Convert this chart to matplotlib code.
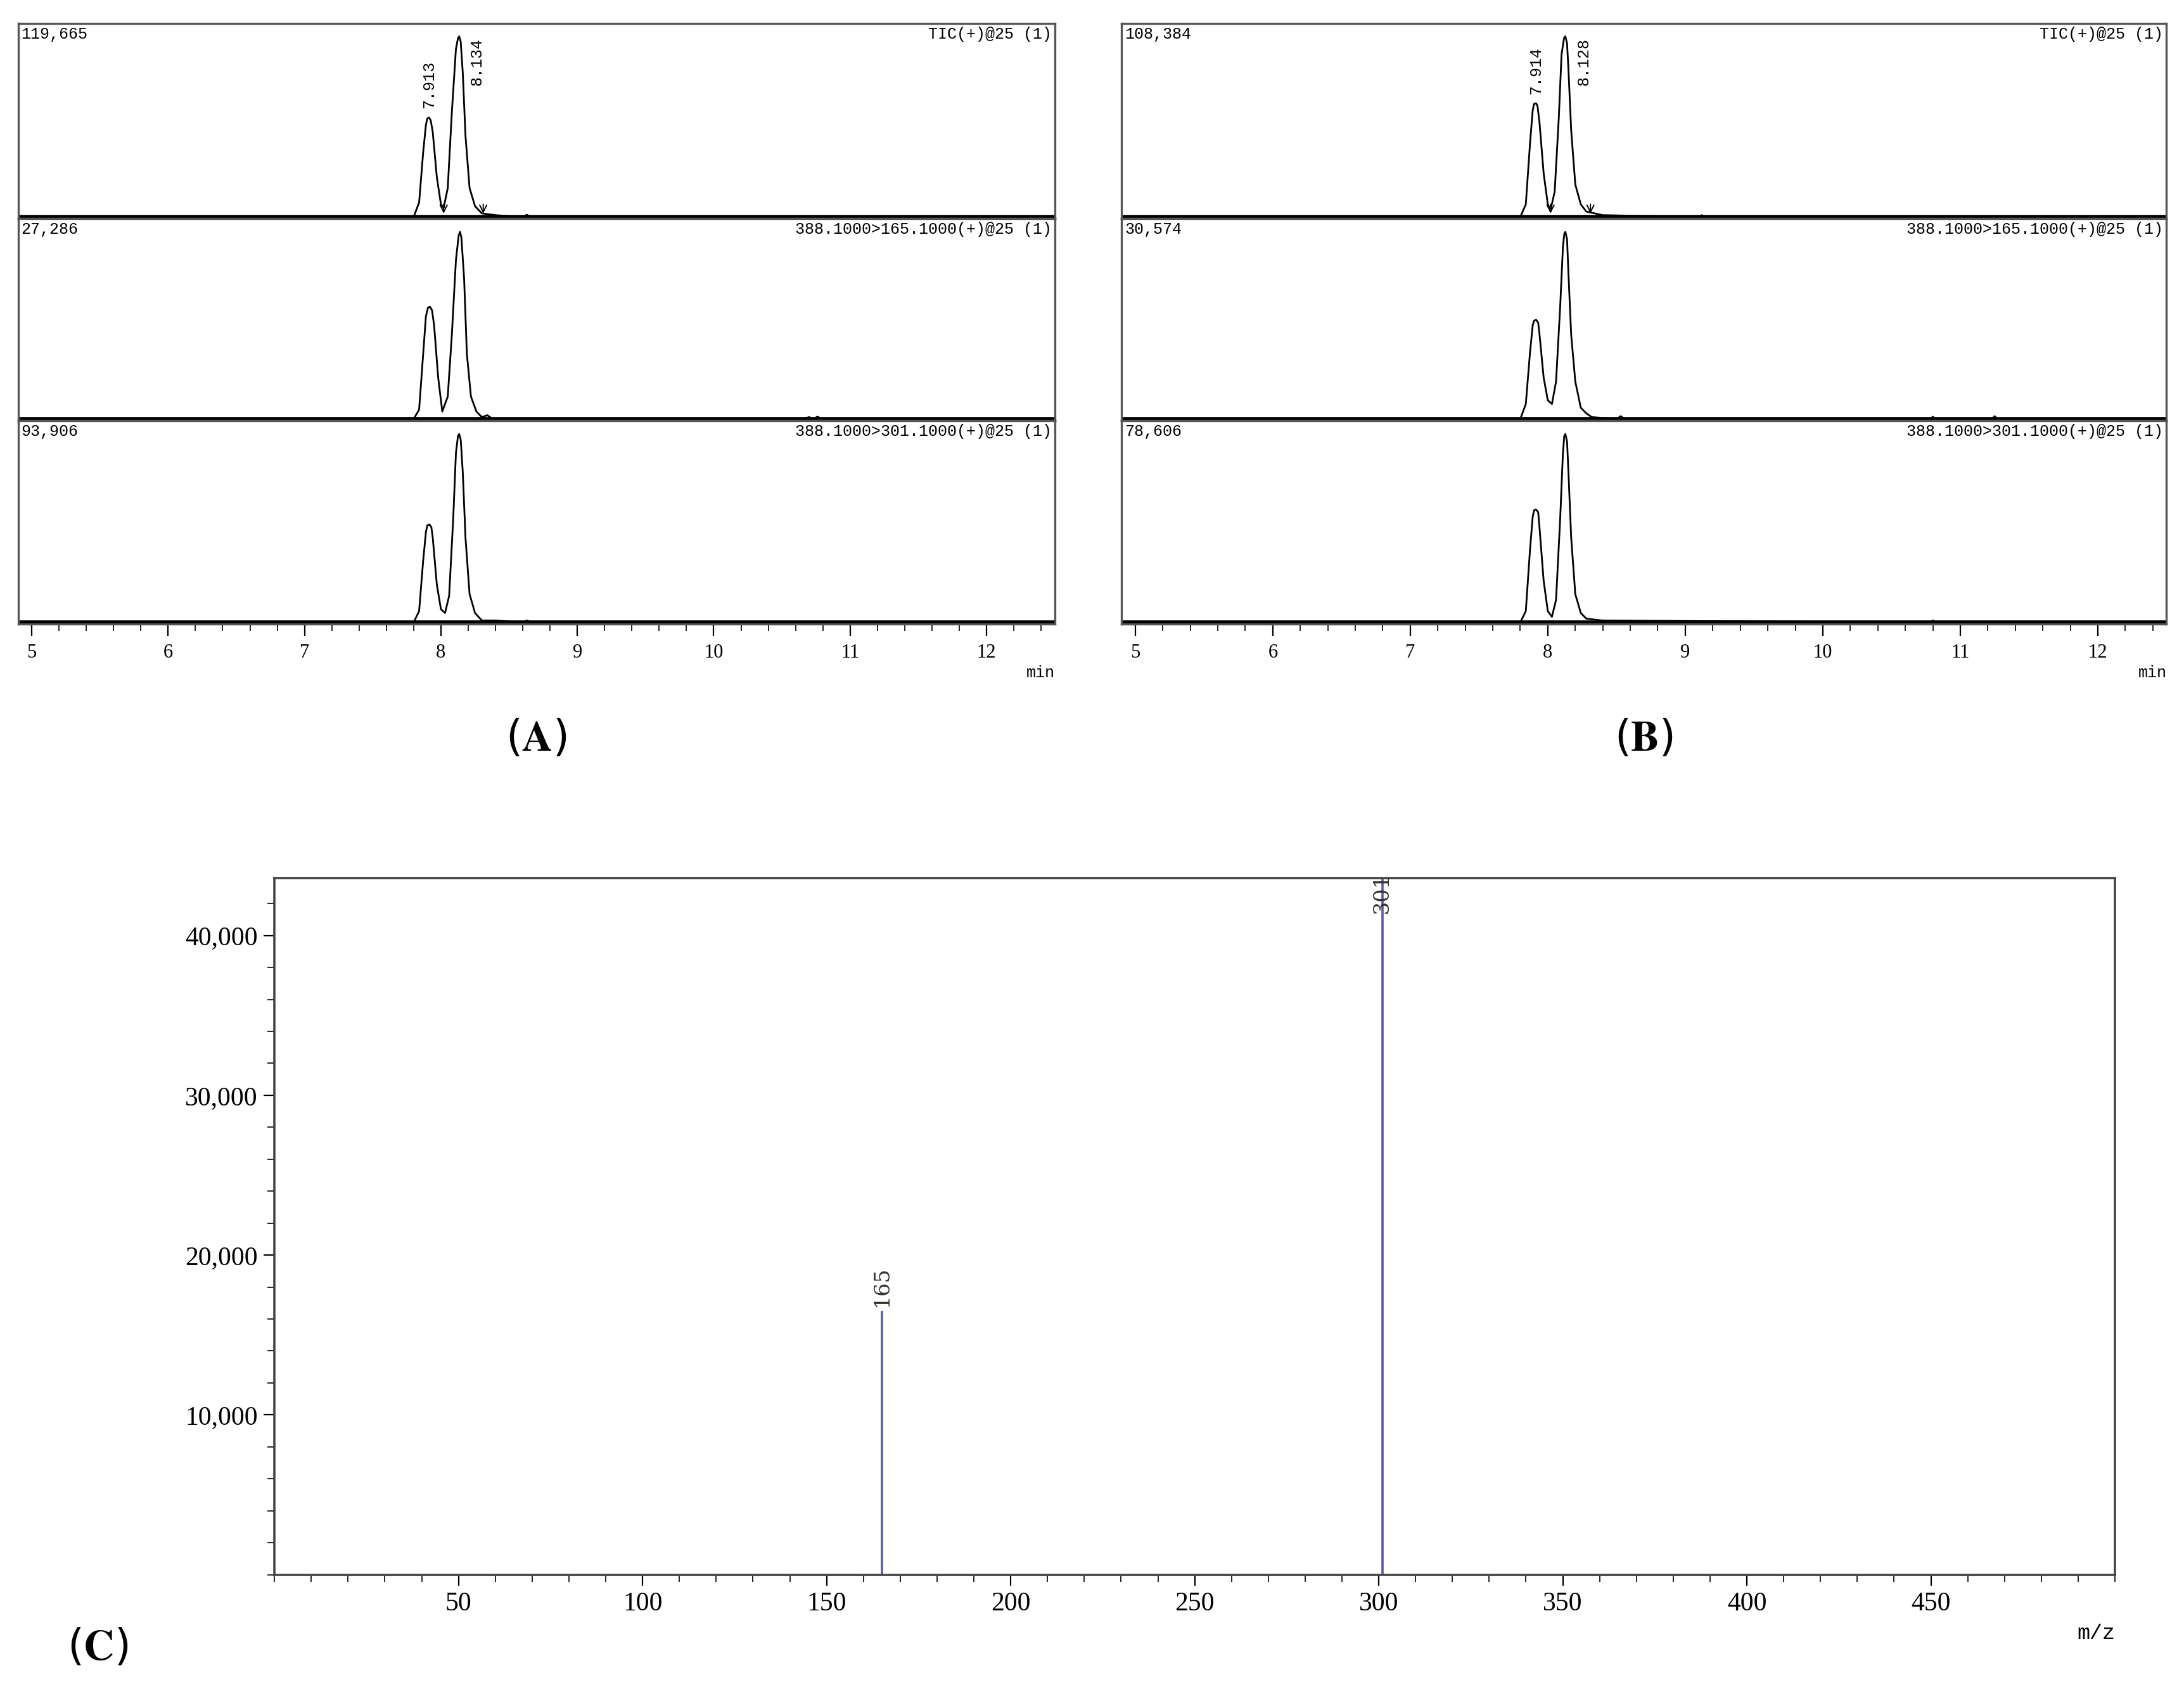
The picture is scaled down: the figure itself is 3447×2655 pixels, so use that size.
import numpy as np
import matplotlib.pyplot as plt
from matplotlib.ticker import MultipleLocator, FuncFormatter

plt.rcParams['mathtext.fontset'] = 'stix'

# ---- chromatogram traces (time in min, intensity relative to panel max) ----
a_tic_t = [4.9, 7.80, 7.84, 7.87, 7.89, 7.90, 7.913, 7.925, 7.94, 7.97, 8.00, 8.02, 8.05, 8.08, 8.11, 8.125, 8.134, 8.145, 8.16, 8.18, 8.21, 8.25, 8.30, 8.40, 8.60, 8.63, 8.66, 12.5]
a_tic_y = [0, 0, 0.08, 0.36, 0.51, 0.545, 0.55, 0.535, 0.47, 0.22, 0.07, 0.05, 0.16, 0.58, 0.93, 0.99, 1.0, 0.97, 0.80, 0.45, 0.16, 0.06, 0.02, 0.01, 0, 0.012, 0, 0]
a_165_t = [4.9, 7.80, 7.84, 7.87, 7.89, 7.905, 7.92, 7.935, 7.95, 7.98, 8.01, 8.05, 8.08, 8.11, 8.13, 8.14, 8.15, 8.17, 8.19, 8.22, 8.26, 8.30, 8.34, 8.38, 10.65, 10.70, 10.73, 10.76, 10.80, 12.5]
a_165_y = [0, 0, 0.05, 0.35, 0.55, 0.595, 0.60, 0.58, 0.50, 0.22, 0.04, 0.12, 0.45, 0.85, 0.98, 1.0, 0.97, 0.75, 0.35, 0.12, 0.04, 0.01, 0.02, 0, 0, 0.01, 0, 0.012, 0, 0]
a_301_t = [4.9, 7.80, 7.84, 7.87, 7.89, 7.90, 7.915, 7.93, 7.94, 7.97, 8.00, 8.03, 8.06, 8.09, 8.11, 8.125, 8.134, 8.145, 8.16, 8.18, 8.21, 8.25, 8.30, 8.40, 8.60, 8.63, 8.66, 12.5]
a_301_y = [0, 0, 0.06, 0.33, 0.48, 0.515, 0.52, 0.505, 0.45, 0.20, 0.07, 0.05, 0.14, 0.55, 0.90, 0.99, 1.0, 0.97, 0.80, 0.45, 0.15, 0.05, 0.01, 0.01, 0, 0.01, 0, 0]

b_tic_t = [4.9, 7.80, 7.84, 7.87, 7.89, 7.90, 7.914, 7.925, 7.94, 7.97, 8.00, 8.02, 8.05, 8.08, 8.10, 8.118, 8.128, 8.14, 8.15, 8.17, 8.20, 8.24, 8.28, 8.40, 9.10, 9.12, 9.14, 12.5]
b_tic_y = [0, 0, 0.07, 0.40, 0.59, 0.625, 0.63, 0.615, 0.52, 0.24, 0.07, 0.04, 0.14, 0.55, 0.90, 0.99, 1.0, 0.96, 0.82, 0.48, 0.18, 0.07, 0.03, 0.01, 0, 0.01, 0, 0]
b_165_t = [4.9, 7.80, 7.84, 7.87, 7.89, 7.90, 7.915, 7.93, 7.94, 7.97, 8.00, 8.03, 8.06, 8.09, 8.11, 8.12, 8.128, 8.14, 8.15, 8.17, 8.20, 8.24, 8.28, 8.32, 8.50, 8.53, 8.56, 10.78, 10.80, 10.82, 11.23, 11.25, 11.27, 12.5]
b_165_y = [0, 0, 0.08, 0.35, 0.50, 0.525, 0.53, 0.515, 0.45, 0.22, 0.10, 0.08, 0.20, 0.60, 0.92, 0.99, 1.0, 0.96, 0.78, 0.45, 0.20, 0.06, 0.03, 0.01, 0, 0.015, 0, 0, 0.012, 0, 0, 0.015, 0, 0]
b_301_t = [4.9, 7.80, 7.84, 7.87, 7.89, 7.90, 7.914, 7.93, 7.94, 7.97, 8.00, 8.03, 8.06, 8.09, 8.11, 8.12, 8.128, 8.14, 8.15, 8.17, 8.20, 8.24, 8.28, 8.40, 10.78, 10.80, 10.82, 12.5]
b_301_y = [0, 0, 0.06, 0.38, 0.56, 0.595, 0.60, 0.585, 0.50, 0.22, 0.06, 0.03, 0.12, 0.55, 0.90, 0.99, 1.0, 0.96, 0.80, 0.45, 0.15, 0.05, 0.02, 0.01, 0, 0.01, 0, 0]

a_max = ['119,665', '27,286', '93,906']
b_max = ['108,384', '30,574', '78,606']
channels = ['TIC(+)@25 (1)', '388.1000>165.1000(+)@25 (1)', '388.1000>301.1000(+)@25 (1)']
a_peaks = ['7.913', '8.134']
b_peaks = ['7.914', '8.128']
a_peak_t = [7.913, 8.134]
b_peak_t = [7.914, 8.128]

# ---- mass spectrum ----
mz = [165, 301]
abund = [16500, 43600]

W, H = 1568, 1207
fig = plt.figure(figsize=(17.24, 13.275), dpi=200)
mono = 'Liberation Mono'


def chrom_panel(left, right, traces, maxes, peak_lbls, peak_t, tag):
    ys = [17, 157, 302, 448]
    axes = []
    for i, (t, y) in enumerate(traces):
        ax = fig.add_axes([left / W, 1 - ys[i + 1] / H, (right - left) / W, (ys[i + 1] - ys[i]) / H])
        ax.plot(t, y, color='black', lw=1.0)
        ax.axhline(0, color='black', lw=2.0)
        ax.set_xlim(4.9, 12.5)
        ax.set_ylim(-0.01, 1.07)
        ax.set_yticks([])
        for s in ax.spines.values():
            s.set_color('#555555')
            s.set_linewidth(1.2)
        ax.text(0.003, 0.985, maxes[i], transform=ax.transAxes, ha='left', va='top', fontsize=9, family=mono)
        ax.text(0.997, 0.985, channels[i], transform=ax.transAxes, ha='right', va='top', fontsize=9, family=mono)
        if i < 2:
            ax.set_xticks([])
        axes.append(ax)
    top = axes[0]
    t0, y0 = traces[0]
    h1 = y0[t0.index(peak_t[0])]
    top.text(peak_t[0], h1 + 0.05, peak_lbls[0], rotation=90, ha='center', va='bottom', fontsize=9, family=mono)
    top.text(peak_t[1] + 0.13, 0.99, peak_lbls[1], rotation=90, ha='center', va='top', fontsize=9, family=mono)
    for xa, d in [(7.80, 1), (8.02, -1), (8.31, -1)]:
        top.annotate('', xy=(xa, 0.0 if d < 0 else 0.02), xytext=(xa, 0.09 if d < 0 else -0.07),
                     arrowprops=dict(arrowstyle='->', lw=0.7, color='black'), annotation_clip=False)
    bot = axes[-1]
    bot.xaxis.set_major_locator(MultipleLocator(1))
    bot.xaxis.set_minor_locator(MultipleLocator(0.2))
    bot.tick_params(axis='x', which='major', length=7, labelsize=11, pad=4)
    bot.tick_params(axis='x', which='minor', length=4)
    for lb in bot.get_xticklabels():
        lb.set_family('Liberation Serif')
    bot.text(1.0, -0.2, 'min', transform=bot.transAxes, ha='right', va='top', fontsize=9, family=mono)
    fig.text((left + right) / 2 / W, 1 - 530 / H, r'($\mathbf{' + tag + '}$)', ha='center', va='center', fontsize=24)


chrom_panel(13, 757, [(a_tic_t, a_tic_y), (a_165_t, a_165_y), (a_301_t, a_301_y)], a_max, a_peaks, a_peak_t, 'A')
chrom_panel(805, 1555, [(b_tic_t, b_tic_y), (b_165_t, b_165_y), (b_301_t, b_301_y)], b_max, b_peaks, b_peak_t, 'B')

axc = fig.add_axes([197 / W, 1 - 1130 / H, (1518 - 197) / W, (1130 - 630) / H])
axc.vlines(mz, 0, abund, color='#5a5aa8', lw=1.3)
for m, a in zip(mz, abund):
    axc.text(m, a + 300, str(m), rotation=90, ha='center', va='bottom' if m != 301 else 'top',
             fontsize=12, family='DejaVu Serif', color='#333333')
axc.set_xlim(0, 500)
axc.set_ylim(0, 43600)
axc.xaxis.set_minor_locator(MultipleLocator(10))
axc.set_xticks([50, 100, 150, 200, 250, 300, 350, 400, 450])
axc.yaxis.set_minor_locator(MultipleLocator(2000))
axc.set_yticks([10000, 20000, 30000, 40000])
axc.yaxis.set_major_formatter(FuncFormatter(lambda v, p: f'{int(v):,}'))
axc.tick_params(which='major', length=6, labelsize=15, direction='out')
axc.tick_params(which='minor', length=4, direction='out')
for lb in axc.get_xticklabels() + axc.get_yticklabels():
    lb.set_family('Liberation Serif')
for s in axc.spines.values():
    s.set_color('#444444')
    s.set_linewidth(1.3)
axc.text(1.0, -0.07, 'm/z', transform=axc.transAxes, ha='right', va='top', fontsize=12, family=mono)
fig.text(70 / W, 1 - 1182 / H, r'($\mathbf{C}$)', ha='center', va='center', fontsize=24)

fig.savefig('out.png', dpi=200)
